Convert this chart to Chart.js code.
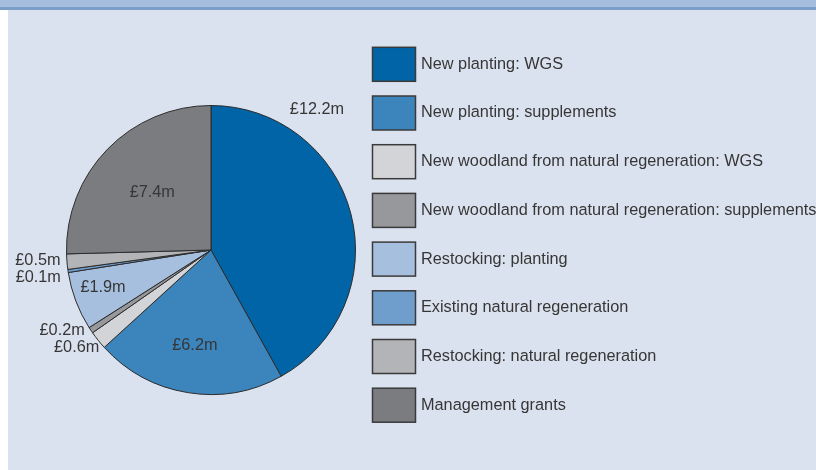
<!DOCTYPE html>
<html>
<head>
<meta charset="utf-8">
<script src="https://cdn.jsdelivr.net/npm/chart.js@4/dist/chart.umd.min.js"></script>
<style>
    html, body { margin: 0; padding: 0; background: #ffffff; }
    #frame { position: relative; width: 816px; height: 470px; overflow: hidden; }
    #band { position: absolute; left: 0; top: 0; width: 816px; height: 7px; background: #a5bedd; border-bottom: 3px solid #7b9ec9; }
    #panel { position: absolute; left: 8px; top: 10px; width: 808px; height: 460px; background: #dbe2ef; }
    #chart { position: absolute; left: 0; top: 0; }
</style>
</head>
<body>
<div id="frame">
    <div id="band"></div>
    <div id="panel"></div>
    <canvas id="chart" width="816" height="470"></canvas>
</div>
<script>
// grant spend, £ million, clockwise from 12 o'clock
const categories = [
    'New planting: WGS',
    'New planting: supplements',
    'New woodland from natural regeneration: WGS',
    'New woodland from natural regeneration: supplements',
    'Restocking: planting',
    'Existing natural regeneration',
    'Restocking: natural regeneration',
    'Management grants'
];
const values = [12.2, 6.2, 0.6, 0.2, 1.9, 0.1, 0.5, 7.4];
const valueLabels = ['£12.2m', '£6.2m', '£0.6m', '£0.2m', '£1.9m', '£0.1m', '£0.5m', '£7.4m'];

const colors = ['#0064a6', '#3c84bc', '#d3d4d7', '#97989c', '#a7bfdf', '#6f9ecc', '#b3b4b7', '#7b7c80'];

// label placement: [radius factor, angle shift in degrees from slice middle]
const labelPlace = [[1.22, -38.5], [0.67, 0.3], [1.15, 2.6], [1.17, 5.4], [0.79, 1.8], [1.21, -0.6], [1.2, 1.3], [0.57, 0.3]];

const FONT = '16.3px "Liberation Sans", Arial, sans-serif';
const TEXT = '#363636';

const pieLabels = {
    id: 'pieLabels',
    afterDatasetsDraw(chart) {
        const ctx = chart.ctx;
        const arcs = chart.getDatasetMeta(0).data;
        ctx.save();
        ctx.font = FONT;
        ctx.fillStyle = TEXT;
        ctx.textAlign = 'center';
        ctx.textBaseline = 'middle';
        arcs.forEach((arc, i) => {
            const [rf, shift] = labelPlace[i];
            const mid = (arc.startAngle + arc.endAngle) / 2 + shift * Math.PI / 180;
            const r = arc.outerRadius * rf;
            ctx.fillText(valueLabels[i], arc.x + Math.cos(mid) * r, arc.y + Math.sin(mid) * r);
        });
        ctx.restore();
    }
};

const sideLegend = {
    id: 'sideLegend',
    afterDraw(chart) {
        const ctx = chart.ctx;
        const boxX = 372.5, boxW = 43, boxH = 34, firstY = 64.3, step = 48.7, textX = 421;
        ctx.save();
        ctx.font = FONT;
        ctx.textBaseline = 'middle';
        chart.data.labels.forEach((label, i) => {
            const cy = firstY + i * step;
            ctx.fillStyle = colors[i];
            ctx.fillRect(boxX, cy - boxH / 2, boxW, boxH);
            ctx.strokeStyle = '#3a3a3a';
            ctx.lineWidth = 1.5;
            ctx.strokeRect(boxX, cy - boxH / 2, boxW, boxH);
            ctx.fillStyle = TEXT;
            ctx.fillText(label, textX, cy);
        });
        ctx.restore();
    }
};

new Chart(document.getElementById('chart'), {
    type: 'pie',
    data: {
        labels: categories,
        datasets: [{
            data: values,
            backgroundColor: colors,
            borderColor: '#2b2b2b',
            borderWidth: 1
        }]
    },
    options: {
        responsive: false,
        animation: false,
        events: [],
        layout: {padding: {left: 66, right: 460, top: 105, bottom: 75}},
        plugins: {
            legend: {display: false},
            tooltip: {enabled: false}
        }
    },
    plugins: [pieLabels, sideLegend]
});
</script>
</body>
</html>
